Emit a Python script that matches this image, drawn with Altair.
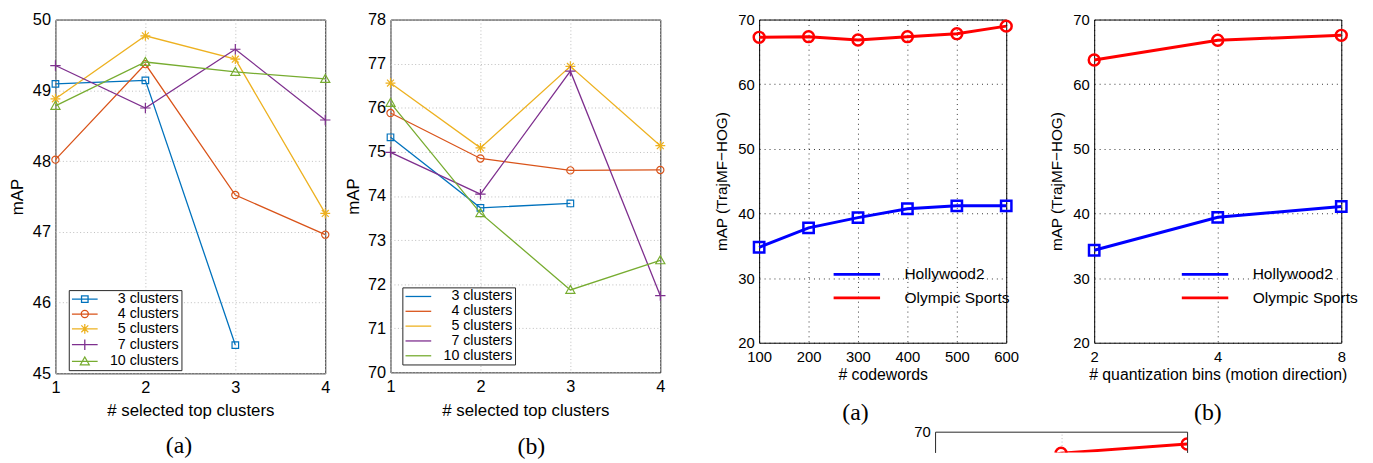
import altair as alt
import pandas as pd

FONT = "Liberation Sans"
SERIF = "Liberation Serif"

# ---------------- data ----------------
CLUSTER_NAMES = ["3 clusters", "4 clusters", "5 clusters", "7 clusters", "10 clusters"]
CLUSTER_COLORS = ["#0072BD", "#D95319", "#EDB120", "#7E2F8E", "#77AC30"]
TOP_CLUSTERS = [1, 2, 3, 4]

A_3 = [49.09, 49.14, 45.40, None]
A_4 = [48.02, 49.37, 47.52, 46.96]
A_5 = [48.88, 49.77, 49.44, 47.26]
A_7 = [49.35, 48.75, 49.58, 48.58]
A_10 = [48.78, 49.40, 49.26, 49.16]

B_3 = [75.33, 73.73, 73.83, None]
B_4 = [75.88, 74.85, 74.58, 74.59]
B_5 = [76.56, 75.09, 76.94, 75.14]
B_7 = [74.99, 74.04, 76.83, 71.74]
B_10 = [76.11, 73.61, 71.87, 72.54]

DATASET_NAMES = ["Hollywood2", "Olympic Sports"]
DATASET_COLORS = ["#0000FF", "#FF0000"]

CODEWORDS = [100, 200, 300, 400, 500, 600]
HW2_CODEWORDS = [34.77, 37.77, 39.35, 40.73, 41.18, 41.18]
OLY_CODEWORDS = [67.25, 67.35, 66.84, 67.35, 67.81, 68.98]

BINS = [2, 4, 8]
HW2_BINS = [34.31, 39.40, 41.08]
OLY_BINS = [63.74, 66.80, 67.56]

OLY_BOTTOM = [63.2, 66.68, 68.10]


def long_df(xs, names, series):
    rows = []
    for name, vals in zip(names, series):
        for xv, yv in zip(xs, vals):
            if yv is not None:
                rows.append({"x": xv, "y": yv, "series": name})
    return pd.DataFrame(rows)


# ---------------- marker paths ----------------
def f(v):
    return f"{v:.3f}".rstrip("0").rstrip(".")


def sq(k):
    return f"M{f(-k)},{f(-k)}L{f(k)},{f(-k)}L{f(k)},{f(k)}L{f(-k)},{f(k)}Z"


def ci(k):
    return f"M{f(-k)},0A{f(k)},{f(k)},0,1,0,{f(k)},0A{f(k)},{f(k)},0,1,0,{f(-k)},0Z"


def st(k):
    d = 0.7 * k
    return (f"M{f(-k)},0L{f(k)},0M0,{f(-k)}L0,{f(k)}"
            f"M{f(-d)},{f(-d)}L{f(d)},{f(d)}M{f(-d)},{f(d)}L{f(d)},{f(-d)}")


def pl(k):
    return f"M{f(-k)},0L{f(k)},0M0,{f(-k)}L0,{f(k)}"


def tr(k):
    return f"M0,{f(-k)}L{f(k)},{f(0.75 * k)}L{f(-k)},{f(0.75 * k)}Z"


# legend symbols use size 100 -> 5 px per path unit
LEG_SIZE = 100
LEG_LINE = "M-2.6,0L2.6,0"
THICK_LINE = "M-4.7,-0.3L4.7,-0.3L4.7,0.3L-4.7,0.3Z"
CL_MARKS = [sq, ci, st, pl, tr]
CL_SIZES = [44, 53, 100, 110, 85]
CL_LEG_K = [0.66, 0.72, 1.0, 1.06, 0.9]

DS_MARKS = [sq, ci]
DS_SIZES = [110, 121]


def x_axis(title, values, fs, tfs, lpad, ty, tx, gcolor, gdash, gop):
    return alt.Axis(title=title, values=values, format="d", labelFont=FONT, titleFont=FONT,
                    labelFontSize=fs, titleFontSize=tfs, labelColor="black", titleColor="black",
                    titleFontWeight="normal", ticks=False, domain=False, grid=True,
                    gridColor=gcolor, gridDash=gdash, gridOpacity=gop, gridWidth=1,
                    labelPadding=lpad, labelFlush=False, labelOverlap=False,
                    titleY=ty, titleX=tx, titleBaseline="middle", titleAlign="center")


def y_axis(title, values, fs, tfs, tx, ty, gcolor, gdash, gop):
    return alt.Axis(title=title, values=values, format="d", labelFont=FONT, titleFont=FONT,
                    labelFontSize=fs, titleFontSize=tfs, labelColor="black", titleColor="black",
                    titleFontWeight="normal", ticks=False, domain=False, grid=True,
                    gridColor=gcolor, gridDash=gdash, gridOpacity=gop, gridWidth=1,
                    labelPadding=5, labelFlush=False, labelOverlap=False,
                    titleX=tx, titleY=ty, titleBaseline="middle", titleAlign="center", titleAngle=270)


def caption(text, dx, off):
    return alt.TitleParams(text=text, orient="bottom", offset=off, dx=dx,
                           font=SERIF, fontSize=24, fontWeight="normal", color="black",
                           baseline="middle", anchor="middle")


CL_LEG_COMMON = dict(title=None, orient="none", direction="vertical",
                     labelFont=FONT, labelFontSize=14.4, labelColor="black", labelAlign="right",
                     labelOffset=87.8, labelExpr="trim(datum.label)", symbolSize=LEG_SIZE,
                     symbolStrokeWidth=1.3, symbolOffset=7, symbolOpacity=1, padding=2,
                     rowPadding=0, strokeColor="#262626", fillColor="white", cornerRadius=0)


def legend_a(lx, ly, base, x, y):
    # legend of panel (a): colour + shape (line with marker)
    leg = dict(CL_LEG_COMMON, legendX=lx, legendY=ly)
    paths = [LEG_LINE + CL_MARKS[i](CL_LEG_K[i]) for i in range(len(CLUSTER_NAMES))]
    return base.transform_filter("false").mark_point(
        filled=False, strokeWidth=1.3, size=LEG_SIZE, opacity=1
    ).encode(
        x=x, y=y,
        color=alt.Color("series:N", scale=alt.Scale(domain=CLUSTER_NAMES, range=CLUSTER_COLORS),
                        legend=alt.Legend(**leg)),
        shape=alt.Shape("series:N", scale=alt.Scale(domain=CLUSTER_NAMES, range=paths),
                        legend=alt.Legend(**leg)),
    )


def legend_b(lx, ly, base, x, y):
    # legend of panel (b): stroke channel (same entries, distinct domain keys)
    names_b = [n + " " for n in CLUSTER_NAMES]
    leg = dict(CL_LEG_COMMON, legendX=lx, legendY=ly, symbolType=LEG_LINE)
    return base.transform_filter("false").mark_point(
        filled=False, strokeWidth=1.3, size=LEG_SIZE, opacity=1
    ).encode(
        x=x, y=y,
        stroke=alt.Stroke("series:N", scale=alt.Scale(domain=names_b, range=CLUSTER_COLORS),
                          legend=alt.Legend(**leg)),
    )


def legend_cd(lx, ly, base, x, y):
    # legends of the two right panels: one fill legend laid out in two columns
    names = [DATASET_NAMES[0], DATASET_NAMES[1], DATASET_NAMES[0] + " ", DATASET_NAMES[1] + " "]
    cols = [DATASET_COLORS[0], DATASET_COLORS[1], DATASET_COLORS[0], DATASET_COLORS[1]]
    leg = dict(title=None, orient="none", legendX=lx, legendY=ly, columns=2, columnPadding=170.3,
               labelFont=FONT, labelFontSize=15.7, labelColor="black", labelAlign="left",
               labelOffset=40.3, labelExpr="trim(datum.label)", symbolSize=LEG_SIZE,
               symbolType=THICK_LINE, symbolStrokeWidth=0, symbolOffset=19, symbolOpacity=1,
               padding=6, rowPadding=7, strokeColor="transparent", fillColor="transparent")
    return base.transform_filter("false").mark_point(
        filled=True, strokeWidth=0, size=LEG_SIZE, opacity=1
    ).encode(
        x=x, y=y,
        fill=alt.Fill("series:N", scale=alt.Scale(domain=names, range=cols),
                      legend=alt.Legend(**leg)),
    )


def cluster_panel(series, ymin, ymax, height, cap, cap_dx, cap_off, xt_y, yt_x, legend_fn, lx, ly):
    W = 273
    df = long_df(TOP_CLUSTERS, CLUSTER_NAMES, series)
    x = alt.X("x:Q", scale=alt.Scale(domain=[1, 4], nice=False, zero=False),
              axis=x_axis("# selected top clusters", TOP_CLUSTERS, 16.5, 17, 6.5, xt_y, W / 2,
                          "#bdbdbd", [1, 2.5], 1))
    y = alt.Y("y:Q", scale=alt.Scale(domain=[ymin, ymax], nice=False, zero=False),
              axis=y_axis("mAP", list(range(ymin, ymax + 1)), 16.5, 17, yt_x, height / 2,
                          "#bdbdbd", [1, 2.5], 1))
    base = alt.Chart(df)
    layers = []
    for i, name in enumerate(CLUSTER_NAMES):
        sub = base.transform_filter(alt.datum.series == name)
        layers.append(sub.mark_line(strokeWidth=1.3, color=CLUSTER_COLORS[i]).encode(x=x, y=y))
        layers.append(sub.mark_point(
            shape=CL_MARKS[i](1), size=CL_SIZES[i], filled=False, strokeWidth=1.2, opacity=1,
            color=CLUSTER_COLORS[i]).encode(x=x, y=y))
    layers.append(legend_fn(lx, ly, base, x, y))
    return alt.layer(*layers).properties(
        width=W, height=height, title=caption(cap, cap_dx, cap_off),
        view=alt.ViewBackground(stroke="#262626", strokeWidth=1))


def dataset_panel(xs, hw, oly, xtitle, log, cap, cap_dx, cap_off, legend_fn=None, lx=0, ly=0):
    W, H = 250, 327
    df = long_df(xs, DATASET_NAMES, [hw, oly])
    if log:
        xs_scale = alt.Scale(type="log", base=2, domain=[xs[0], xs[-1]], nice=False)
    else:
        xs_scale = alt.Scale(domain=[xs[0], xs[-1]], nice=False, zero=False)
    x = alt.X("x:Q", scale=xs_scale,
              axis=x_axis(xtitle, xs, 15, 16, 7, 32.5, W / 2, "#000000", [1, 4], 0.8))
    y = alt.Y("y:Q", scale=alt.Scale(domain=[20, 70], nice=False, zero=False),
              axis=y_axis("mAP (TrajMF\u2212HOG)", [20, 30, 40, 50, 60, 70], 15, 15.5, -37.7, H / 2,
                          "#000000", [1, 4], 0.8))
    base = alt.Chart(df)
    layers = []
    for i, name in enumerate(DATASET_NAMES):
        sub = base.transform_filter(alt.datum.series == name)
        layers.append(sub.mark_line(strokeWidth=3, color=DATASET_COLORS[i]).encode(x=x, y=y))
        layers.append(sub.mark_point(
            shape=DS_MARKS[i](1), size=DS_SIZES[i], filled=False, strokeWidth=2.5, opacity=1,
            color=DATASET_COLORS[i]).encode(x=x, y=y))
    if legend_fn is not None:
        layers.append(legend_fn(lx, ly, base, x, y))
    return alt.layer(*layers).properties(
        width=W, height=H, title=caption(cap, cap_dx, cap_off),
        view=alt.ViewBackground(stroke="#000000", strokeWidth=1))


def spacer(w):
    return alt.Chart(pd.DataFrame({"v": [0]})).mark_point(opacity=0).encode(
        x=alt.X("v:Q", axis=None), y=alt.Y("v:Q", axis=None)
    ).properties(width=w, height=1, view=alt.ViewBackground(stroke="transparent"))


# ---------------- bottom, partly visible panel ----------------
P5_H = 21
P5_YMIN = 70 - P5_H * 50 / 327
df5 = pd.DataFrame({"x": BINS, "y": OLY_BOTTOM})
x5 = alt.X("x:Q", scale=alt.Scale(type="log", base=2, domain=[2, 8], nice=False),
           axis=alt.Axis(orient="top", title=None, labels=False, ticks=False, domain=True,
                         domainColor="#262626", domainWidth=1, grid=True,
                         values=[4], gridColor="#bdbdbd", gridDash=[1, 2.5]))
y5_scale = alt.Scale(domain=[P5_YMIN, 70], nice=False, zero=False)
y5_left = alt.Y("y:Q", scale=y5_scale,
                axis=alt.Axis(title=None, values=[70], format="d", labelFont=FONT, labelFontSize=15,
                              labelColor="black", ticks=False, domain=True, domainColor="#262626",
                              grid=False, labelPadding=5))
y5_right = alt.Y("y:Q", scale=y5_scale,
                 axis=alt.Axis(orient="right", title=None, labels=False, ticks=False, domain=True,
                               domainColor="#262626", grid=False))
b5 = alt.Chart(df5)
p5 = alt.layer(
    b5.mark_line(strokeWidth=3, clip=True, color=DATASET_COLORS[1]).encode(x=x5, y=y5_left),
    b5.mark_point(shape=ci(1), size=121, filled=False, strokeWidth=2.5, opacity=1, clip=True,
                  color=DATASET_COLORS[1]).encode(x=x5, y=y5_right),
).resolve_scale(y="independent").properties(
    width=255, height=P5_H, view=alt.ViewBackground(stroke="transparent"))

# legend positions are relative to the plot origin of panel (a), the chart's origin
p1 = cluster_panel([A_3, A_4, A_5, A_7, A_10], 45, 50, 358, "(a)", -11.5, 28, 37.75, -38,
                   legend_a, 13.5, 273.75)
p2 = cluster_panel([B_3, B_4, B_5, B_7, B_10], 70, 78, 357, "(b)", 6, 28.5, 38.75, -37,
                   legend_b, 351, 271)
p3 = dataset_panel(CODEWORDS, HW2_CODEWORDS, OLY_CODEWORDS, "# codewords", False,
                   "(a)", -27.5, 30.5, legend_cd, 778, 243.75)
p4 = dataset_panel(BINS, HW2_BINS, OLY_BINS, "# quantization bins (motion direction)", True,
                   "(b)", -10, 30.5)

top = alt.hconcat(
    p1, spacer(65.7), p2, spacer(100), p3, spacer(88.6), p4,
    spacing=0, bounds="flush",
)

bottom = alt.hconcat(spacer(890), p5, spacing=0, bounds="flush")

chart = alt.vconcat(top, bottom, spacing=417, bounds="flush").properties(
    padding=0, background="white").configure(font=FONT)

chart.save("out.html", embed_options={"renderer": "svg", "actions": False})
